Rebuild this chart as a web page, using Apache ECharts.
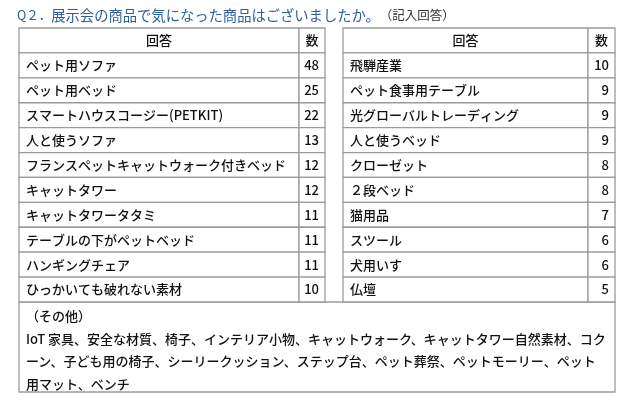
<!DOCTYPE html>
<html>
<head>
<meta charset="utf-8">
<script src="https://cdn.jsdelivr.net/npm/echarts@6/dist/echarts.min.js"></script>
<style>
  html, body { margin: 0; padding: 0; background: #fff; }
  #main { width: 640px; height: 403px; }
</style>
</head>
<body>
<div id="main"></div>
<script>
var headerName = '回答'
var headerCount = '数'
var leftNames = ['ペット用ソファ', 'ペット用ベッド', 'スマートハウスコージー(PETKIT)', '人と使うソファ', 'フランスペットキャットウォーク付きベッド', 'キャットタワー', 'キャットタワータタミ', 'テーブルの下がペットベッド', 'ハンギングチェア', 'ひっかいても破れない素材']
var leftCounts = [48, 25, 22, 13, 12, 12, 11, 11, 11, 10]
var rightNames = ['飛騨産業', 'ペット食事用テーブル', '光グローバルトレーディング', '人と使うベッド', 'クローゼット', '２段ベッド', '猫用品', 'スツール', '犬用いす', '仏壇']
var rightCounts = [10, 9, 9, 9, 8, 8, 7, 6, 6, 5]
var otherLines = ['（その他）', 'IoT 家具、安全な材質、椅子、インテリア小物、キャットウォーク、キャットタワー自然素材、コク', 'ーン、子ども用の椅子、シーリークッション、ステップ台、ペット葬祭、ペットモーリー、ペット', '用マット、ベンチ']

var FONT = '"Noto Sans CJK JP", "Noto Sans", sans-serif'
var BORDER = '#9c9c9c'
var TEXT = '#111'

var chart = echarts.init(document.getElementById('main'))

// 表の行データ（先頭がヘッダー）
function tableData(names, counts) {
  var rows = [{ value: [0, 0], label: headerName, count: headerCount, header: true }]
  for (var i = 0; i < names.length; i++) {
    rows.push({ value: [0, i + 1], label: names[i], count: String(counts[i]), header: false })
  }
  return rows
}

function makeRender(rows, numW) {
  return function (params, api) {
    var row = rows[params.dataIndex]
    var idx = api.value(1)
    var p0 = api.coord([0, idx])
    var p1 = api.coord([1, idx])
    var h = api.size([0, 1])[1]
    var x0 = p0[0], x1 = p1[0], yc = p0[1]
    var xn = x1 - numW
    var cellStyle = { fill: '#fff', stroke: BORDER, lineWidth: 1.3 }
    return {
      type: 'group',
      children: [
        { type: 'rect', shape: { x: x0, y: yc - h / 2, width: xn - x0, height: h }, style: cellStyle },
        { type: 'rect', shape: { x: xn, y: yc - h / 2, width: numW, height: h }, style: cellStyle },
        {
          type: 'text',
          style: {
            x: row.header ? (x0 + xn) / 2 : x0 + 7, y: yc,
            text: row.label, fill: TEXT, font: '500 13px ' + FONT,
            align: row.header ? 'center' : 'left', verticalAlign: 'middle'
          }
        },
        {
          type: 'text',
          style: {
            x: row.header ? (xn + x1) / 2 : x1 - 6, y: yc,
            text: row.count, fill: TEXT, font: '500 13px ' + FONT,
            align: row.header ? 'center' : 'right', verticalAlign: 'middle'
          }
        }
      ]
    }
  }
}

var leftRows = tableData(leftNames, leftCounts)
var rightRows = tableData(rightNames, rightCounts)

var option = {
  animation: false,
  backgroundColor: '#fff',
  title: {
    left: 17,
    top: 8,
    padding: 0,
    text: '{q|Q２．}{m|展示会の商品で気になった商品はございましたか。}{s|（記入回答）}',
    textStyle: {
      fontWeight: 'normal',
      rich: {
        q: { fontSize: 12.5, color: '#2e5f9a', fontFamily: FONT, fontWeight: 'normal' },
        m: { fontSize: 14.3, color: '#2e5f9a', fontFamily: FONT, fontWeight: 'normal' },
        s: { fontSize: 12.5, color: '#333', fontFamily: FONT, fontWeight: 'normal' }
      }
    }
  },
  grid: [
    { left: 19, top: 28, width: 306, height: 274 },
    { left: 343, top: 28, width: 272, height: 274 }
  ],
  xAxis: [
    { gridIndex: 0, type: 'value', min: 0, max: 1, show: false },
    { gridIndex: 1, type: 'value', min: 0, max: 1, show: false }
  ],
  yAxis: [
    { gridIndex: 0, type: 'category', inverse: true, show: false, data: [headerName].concat(leftNames) },
    { gridIndex: 1, type: 'category', inverse: true, show: false, data: [headerName].concat(rightNames) }
  ],
  series: [
    { type: 'custom', xAxisIndex: 0, yAxisIndex: 0, data: leftRows, renderItem: makeRender(leftRows, 26), silent: true },
    { type: 'custom', xAxisIndex: 1, yAxisIndex: 1, data: rightRows, renderItem: makeRender(rightRows, 27), silent: true }
  ],
  graphic: [
    {
      type: 'rect',
      shape: { x: 19, y: 302, width: 596, height: 90 },
      style: { fill: '#fff', stroke: BORDER, lineWidth: 1.3 }
    },
    {
      type: 'text',
      x: 26,
      y: 305,
      style: {
        text: otherLines.join('\n'),
        fill: TEXT,
        font: '500 13px ' + FONT,
        lineHeight: 22.5,
        verticalAlign: 'top'
      }
    }
  ]
}

chart.setOption(option)
</script>
</body>
</html>
